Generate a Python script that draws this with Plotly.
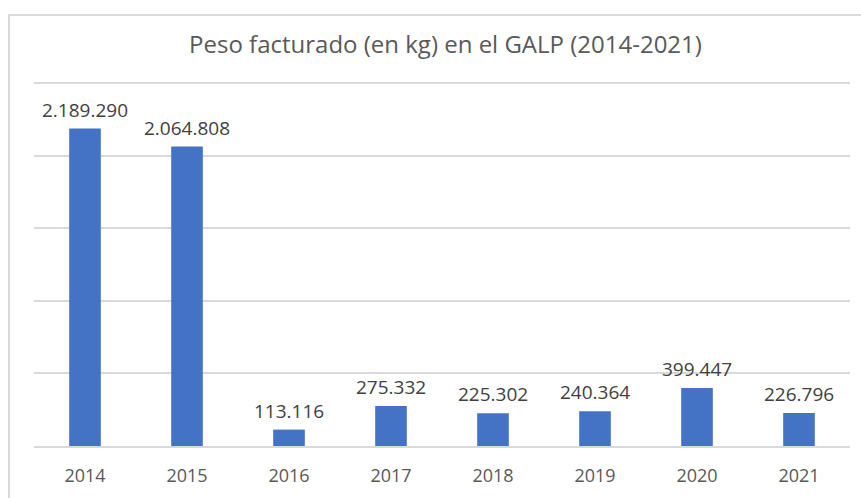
import plotly.graph_objects as go

years = ["2014", "2015", "2016", "2017", "2018", "2019", "2020", "2021"]
peso_kg = [2189290, 2064808, 113116, 275332, 225302, 240364, 399447, 226796]

title = "Peso facturado (en kg) en el GALP (2014-2021)"
font_family = "Open Sans"

# etiquetas con punto como separador de miles
labels = [f"{v:,}".replace(",", ".") for v in peso_kg]
pos = list(range(len(years)))

fig = go.Figure(go.Bar(
    x=pos,
    y=peso_kg,
    marker=dict(color="#4472C4", line=dict(width=0)),
    width=0.31,
    hovertext=years,
))

for i, v, lab in zip(pos, peso_kg, labels):
    fig.add_annotation(
        x=i, y=v, text=lab,
        showarrow=False, yanchor="bottom", yshift=4,
        font=dict(size=19, color="#404040", family=font_family),
    )

# marco del gráfico (cortado en la captura)
fig.add_shape(
    type="rect", xref="paper", yref="paper",
    x0=-0.0306, x1=1.1, y0=-0.3, y1=1.184,
    line=dict(color="#d9d9d9", width=2),
)

fig.update_layout(
    width=861, height=498,
    margin=dict(l=34, r=11, t=82, b=41),
    paper_bgcolor="white",
    plot_bgcolor="white",
    showlegend=False,
    title=dict(
        text=title, x=0.5174, xanchor="center", y=0.9096, yanchor="middle",
        font=dict(size=24, color="#595959", family=font_family),
    ),
    xaxis=dict(
        range=[-0.5, len(years) - 0.5],
        tickvals=pos, ticktext=years,
        showgrid=False, showline=True, linecolor="#d9d9d9", linewidth=2,
        zeroline=False,
        ticks="", tickfont=dict(size=18, color="#595959", family=font_family),
        ticklabelstandoff=12,
    ),
    yaxis=dict(
        range=[0, 2510000], tickvals=[500000, 1000000, 1500000, 2000000, 2500000],
        showticklabels=False,
        showgrid=True, gridcolor="#d9d9d9", gridwidth=2,
        zeroline=False, showline=False,
    ),
)

# quitar el margen por defecto del <body> para que la figura ocupe la ventana
fig.write_html(
    "out.html",
    config={"displayModeBar": False},
    post_script="document.body.style.margin = '0';",
)
